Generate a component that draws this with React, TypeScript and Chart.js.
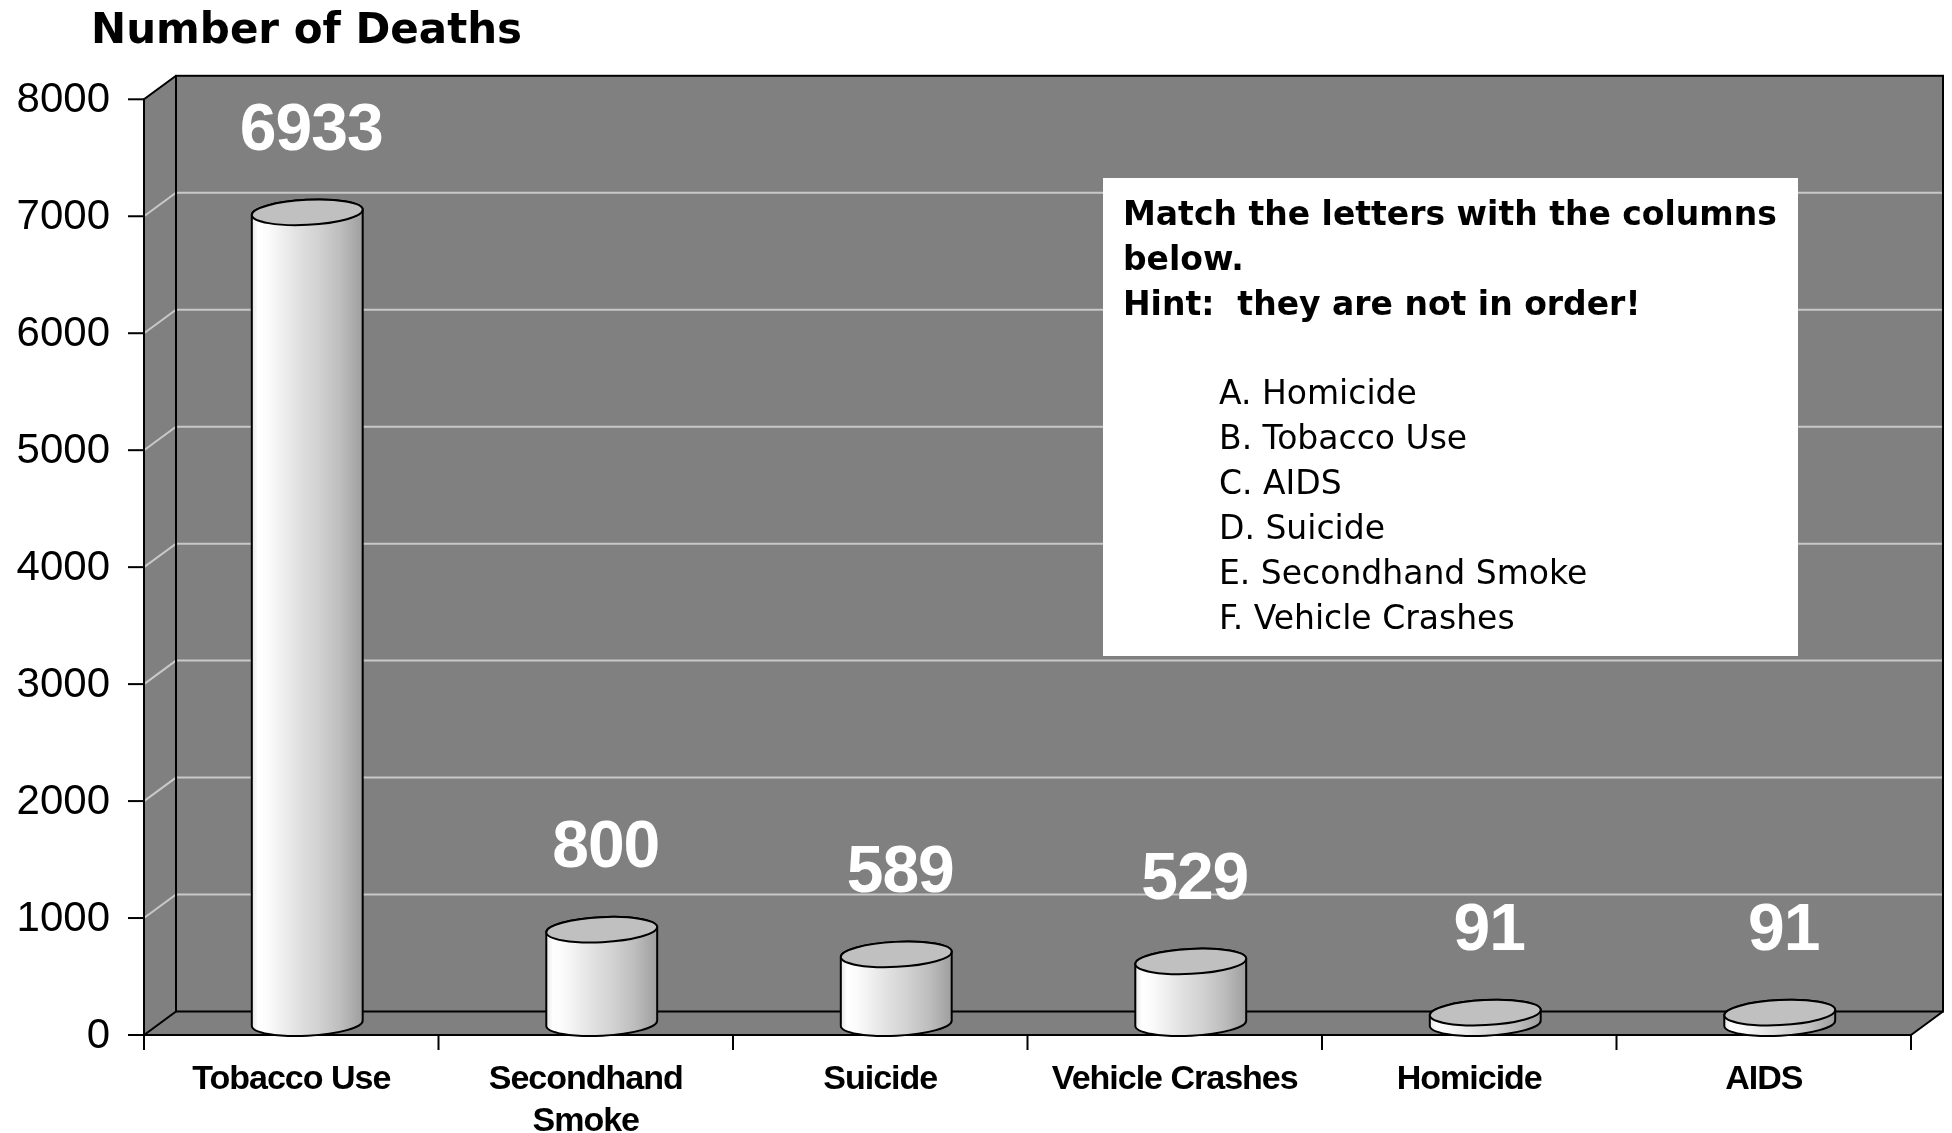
import React, { useEffect, useRef } from 'react';
import { Chart, registerables } from 'chart.js';

Chart.register(...registerables);

// ---- data ----
const categories: (string | string[])[] = [
  'Tobacco Use',
  ['Secondhand', 'Smoke'],
  'Suicide',
  'Vehicle Crashes',
  'Homicide',
  'AIDS',
];
const deaths: number[] = [6933, 800, 589, 529, 91, 91];
const yTicks: number[] = [0, 1000, 2000, 3000, 4000, 5000, 6000, 7000, 8000];
const chartTitle = 'Number of Deaths';
const boxHeading: string[] = [
  'Match the letters with the columns',
  'below.',
  'Hint:  they are not in order!',
];
const boxItems: string[] = [
  'A. Homicide',
  'B. Tobacco Use',
  'C. AIDS',
  'D. Suicide',
  'E. Secondhand Smoke',
  'F. Vehicle Crashes',
];

// ---- styling / geometry ----
const W = 1952;
const H = 1133;
const DX = 32; // 3D depth offset
const DY = 23.5;
const WALL = '#808080';
const GRID = '#c8c8c8';

function setSpacing(ctx: CanvasRenderingContext2D, v: string) {
  try {
    (ctx as any).letterSpacing = v;
  } catch (e) {
    /* ignore */
  }
}

const threeD = {
  id: 'threeD',
  beforeDatasetsDraw(chart: any) {
    const { ctx, chartArea: a, scales } = chart;
    const x = scales.x;
    const y = scales.y;
    const L = a.left;
    const R = a.right;
    const T = y.getPixelForValue(yTicks[yTicks.length - 1]);
    const B = y.getPixelForValue(0);
    ctx.save();
    // walls
    ctx.fillStyle = WALL;
    ctx.fillRect(L + DX, T - DY, R - L, B - T);
    ctx.beginPath();
    ctx.moveTo(L, T);
    ctx.lineTo(L + DX, T - DY);
    ctx.lineTo(L + DX, B - DY);
    ctx.lineTo(L, B);
    ctx.closePath();
    ctx.fill();
    ctx.beginPath();
    ctx.moveTo(L, B);
    ctx.lineTo(L + DX, B - DY);
    ctx.lineTo(R + DX, B - DY);
    ctx.lineTo(R, B);
    ctx.closePath();
    ctx.fill();

    // gridlines
    ctx.strokeStyle = GRID;
    ctx.lineWidth = 2;
    yTicks.forEach((v) => {
      if (v === 0 || v === yTicks[yTicks.length - 1]) return;
      const py = y.getPixelForValue(v);
      ctx.beginPath();
      ctx.moveTo(L, py);
      ctx.lineTo(L + DX, py - DY);
      ctx.lineTo(R + DX, py - DY);
      ctx.stroke();
    });

    // black outlines
    ctx.strokeStyle = '#000';
    ctx.lineWidth = 2;
    ctx.strokeRect(L + DX, T - DY, R - L, B - T);
    ctx.beginPath();
    ctx.moveTo(L + DX, T - DY);
    ctx.lineTo(L, T);
    ctx.lineTo(L, B);
    ctx.lineTo(L + DX, B - DY);
    ctx.moveTo(L, B);
    ctx.lineTo(R, B);
    ctx.lineTo(R + DX, B - DY);
    ctx.stroke();

    // y ticks + labels
    ctx.fillStyle = '#000';
    ctx.font = '42px "Liberation Sans", Arial, sans-serif';
    ctx.textAlign = 'right';
    ctx.textBaseline = 'middle';
    yTicks.forEach((v) => {
      const py = y.getPixelForValue(v);
      ctx.beginPath();
      ctx.moveTo(L - 16, py);
      ctx.lineTo(L, py);
      ctx.stroke();
      ctx.fillText(String(v), L - 34, py + 1);
    });

    // x ticks
    const n = categories.length;
    const c0 = x.getPixelForValue(0);
    const c1 = x.getPixelForValue(1);
    const half = (c1 - c0) / 2;
    for (let i = 0; i <= n; i++) {
      const px = i < n ? x.getPixelForValue(i) - half : x.getPixelForValue(n - 1) + half;
      ctx.beginPath();
      ctx.moveTo(px, B);
      ctx.lineTo(px, B + 15);
      ctx.stroke();
    }

    // x labels
    ctx.font = 'bold 34px "Liberation Sans", Arial, sans-serif';
    setSpacing(ctx, '-1px');
    ctx.textAlign = 'center';
    ctx.textBaseline = 'alphabetic';
    categories.forEach((lab, i) => {
      const px = x.getPixelForValue(i);
      const lines = Array.isArray(lab) ? lab : [lab];
      lines.forEach((ln, j) => ctx.fillText(ln, px, B + 54 + j * 42));
    });
    setSpacing(ctx, '0px');
    ctx.restore();
  },
  afterDatasetsDraw(chart: any) {
    const { ctx } = chart;
    const meta = chart.getDatasetMeta(0);
    ctx.save();
    meta.data.forEach((bar: any, i: number) => {
      const p = bar.getProps(['x', 'y', 'base', 'width'], true);
      const cx = p.x + DX / 2;
      const rx = p.width / 2;
      const ry = 12.5;
      const rot = -0.05;
      const topY = p.y - DY / 2;
      const botY = p.base - DY / 2;
      // body
      const g = ctx.createLinearGradient(cx - rx, 0, cx + rx, 0);
      g.addColorStop(0, '#e6e6e6');
      g.addColorStop(0.06, '#ffffff');
      g.addColorStop(0.15, '#fbfbfb');
      g.addColorStop(0.45, '#dedede');
      g.addColorStop(0.6, '#d2d2d2');
      g.addColorStop(0.8, '#bdbdbd');
      g.addColorStop(1, '#9e9e9e');
      ctx.beginPath();
      ctx.ellipse(cx, botY, rx, ry, rot, 0, Math.PI, false);
      ctx.ellipse(cx, topY, rx, ry, rot, Math.PI, 2 * Math.PI, false);
      ctx.closePath();
      ctx.fillStyle = g;
      ctx.fill();
      ctx.strokeStyle = '#000';
      ctx.lineWidth = 2;
      ctx.stroke();
      // top
      ctx.beginPath();
      ctx.ellipse(cx, topY, rx, ry, rot, 0, 2 * Math.PI);
      ctx.fillStyle = '#c0c0c0';
      ctx.fill();
      ctx.stroke();

      // value label
      ctx.fillStyle = '#ffffff';
      ctx.font = 'bold 66px "Liberation Sans", Arial, sans-serif';
      setSpacing(ctx, '-1px');
      ctx.textAlign = 'center';
      ctx.textBaseline = 'alphabetic';
      ctx.fillText(String(deaths[i]), cx + 4, p.y - 74);
      setSpacing(ctx, '0px');
    });

    // title
    ctx.fillStyle = '#000';
    ctx.font = 'bold 42px "DejaVu Sans", sans-serif';
    ctx.textAlign = 'left';
    ctx.fillText(chartTitle, 91, 43);

    // text box
    ctx.fillStyle = '#ffffff';
    ctx.fillRect(1103, 178, 695, 478);
    ctx.fillStyle = '#000';
    ctx.font = 'bold 33px "DejaVu Sans", sans-serif';
    boxHeading.forEach((t, j) => ctx.fillText(t, 1123, 225 + j * 45));
    ctx.font = '33px "DejaVu Sans", sans-serif';
    boxItems.forEach((t, j) => ctx.fillText(t, 1219, 404 + j * 45));
    ctx.restore();
  },
};

export default function App() {
  const ref = useRef<HTMLCanvasElement | null>(null);
  useEffect(() => {
    if (!ref.current) return;
    const chart = new Chart(ref.current, {
      type: 'bar',
      data: {
        labels: categories as any,
        datasets: [
          {
            data: deaths,
            backgroundColor: 'rgba(0,0,0,0)',
            borderWidth: 0,
            categoryPercentage: 1,
            barPercentage: 0.377,
          },
        ],
      },
      options: {
        responsive: false,
        animation: false,
        devicePixelRatio: 1,
        layout: { padding: { left: 144, right: 41, top: 99.3, bottom: 98 } },
        scales: {
          x: { display: false, offset: true },
          y: { display: false, min: 0, max: 8000 },
        },
        plugins: {
          legend: { display: false },
          tooltip: { enabled: false },
          title: { display: false },
        },
      },
      plugins: [threeD],
    });
    return () => chart.destroy();
  }, []);
  return (
    <div style={{ position: 'fixed', left: 0, top: 0, width: W, height: H, background: '#fff' }}>
      <canvas ref={ref} width={W} height={H} style={{ width: W, height: H, display: 'block' }} />
    </div>
  );
}
